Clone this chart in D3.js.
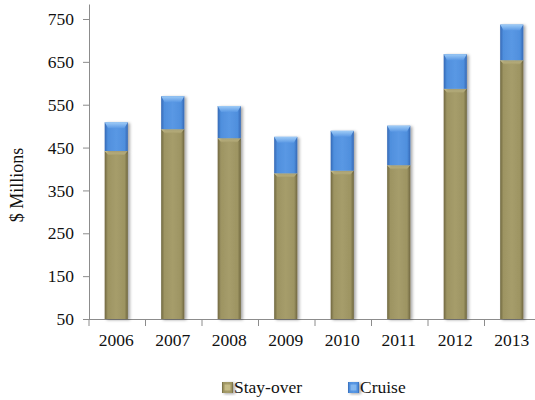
<!DOCTYPE html>
<html>
<head>
<meta charset="utf-8">
<script src="https://cdn.jsdelivr.net/npm/d3@7/dist/d3.min.js"></script>
<style>
  html, body { margin: 0; padding: 0; background: #fff; }
  svg { display: block; }
  svg text { font-family: "Liberation Serif", "Times New Roman", Tinos, "DejaVu Serif", serif !important; fill: #111; }
</style>
</head>
<body>
<svg id="chart" width="535" height="400"></svg>
<script>
// Visitor spending by year, $ millions
const years = ["2006", "2007", "2008", "2009", "2010", "2011", "2012", "2013"];
const stayOver = [442, 493, 472, 390, 396, 409, 587, 654];
const cruise = [67, 77, 75, 85, 93, 92, 81, 83];
const yTicks = [50, 150, 250, 350, 450, 550, 650, 750];
const seriesNames = ["Stay-over", "Cruise"];

const serif = "'Liberation Serif', 'Times New Roman', Tinos, 'DejaVu Serif', serif";

const svg = d3.select("#chart");
const defs = svg.append("defs");

const palette = {
  "Stay-over": { edge: "#6f6740", mid: "#9d9462", light: "#a69d6b", bevel: "#ddd39c" },
  "Cruise":    { edge: "#3468b5", mid: "#4f8fdd", light: "#5a98e4", bevel: "#9fccf7" }
};

// horizontal shading for the bar bodies
seriesNames.forEach((name, i) => {
  const c = palette[name];
  const g = defs.append("linearGradient").attr("id", "grad" + i)
    .attr("x1", "0").attr("x2", "1").attr("y1", "0").attr("y2", "0");
  g.append("stop").attr("offset", "0").attr("stop-color", c.edge);
  g.append("stop").attr("offset", "0.14").attr("stop-color", c.mid);
  g.append("stop").attr("offset", "0.5").attr("stop-color", c.light);
  g.append("stop").attr("offset", "0.86").attr("stop-color", c.mid);
  g.append("stop").attr("offset", "1").attr("stop-color", c.edge);
  const b = defs.append("linearGradient").attr("id", "bevel" + i)
    .attr("x1", "0").attr("x2", "0").attr("y1", "0").attr("y2", "1");
  b.append("stop").attr("offset", "0").attr("stop-color", c.bevel);
  b.append("stop").attr("offset", "1").attr("stop-color", c.light);
});

const shadow = defs.append("filter").attr("id", "shadow")
  .attr("x", "-30%").attr("y", "-10%").attr("width", "160%").attr("height", "130%");
shadow.append("feDropShadow").attr("dx", 2).attr("dy", 1)
  .attr("stdDeviation", 1.5).attr("flood-color", "#000").attr("flood-opacity", 0.35);

const x = d3.scaleBand().domain(years).range([88, 540])
  .paddingInner(0.59).paddingOuter(0.295);
const y = d3.scaleLinear().domain([50, 785]).range([319, 4]);

const rows = years.map((yr, i) => ({ year: yr, "Stay-over": stayOver[i], "Cruise": cruise[i] }));
const stacked = d3.stack().keys(seriesNames).value((d, k) => d[k])(rows);
// bars rise from the axis minimum of 50
stacked[0].forEach(p => { p[0] = 50; });

// axes
const axisColor = "#8c8c8c";
const yAxis = svg.append("g").attr("transform", "translate(89,0)")
  .call(d3.axisLeft(y).tickValues(yTicks).tickSize(6).tickSizeOuter(0).tickPadding(9));
yAxis.attr("font-family", serif).attr("font-size", 17.5);
yAxis.select(".domain").attr("stroke", axisColor);
yAxis.selectAll(".tick line").attr("stroke", axisColor);
yAxis.selectAll(".tick text").attr("fill", "#111");

const xAxis = svg.append("g").attr("transform", "translate(0,319)")
  .call(d3.axisBottom(x).tickSize(0).tickPadding(15));
xAxis.attr("font-family", serif).attr("font-size", 17.5);
xAxis.select(".domain").remove();
xAxis.selectAll(".tick text").attr("fill", "#111");
xAxis.append("line").attr("x1", 83).attr("x2", 535).attr("y1", 0.5).attr("y2", 0.5)
  .attr("stroke", axisColor);
xAxis.selectAll("line.sep").data(years).enter().append("line")
  .attr("class", "sep")
  .attr("x1", d => x(d) - x.step() * x.paddingInner() / 2 + 1)
  .attr("x2", d => x(d) - x.step() * x.paddingInner() / 2 + 1)
  .attr("y1", 0).attr("y2", 7).attr("stroke", axisColor);

// stacked bars with bevelled tops
const bw = x.bandwidth();
stacked.forEach((layer, si) => {
  const bevelH = si === 0 ? 4 : 6;
  const g = svg.append("g").attr("class", "series-" + si);
  const seg = g.selectAll("g").data(layer).enter().append("g")
    .attr("filter", "url(#shadow)");
  seg.append("rect")
    .attr("x", d => x(d.data.year))
    .attr("y", d => y(d[1]))
    .attr("width", bw)
    .attr("height", d => y(d[0]) - y(d[1]))
    .attr("fill", "url(#grad" + si + ")");
  seg.append("polygon")
    .attr("points", d => {
      const x0 = x(d.data.year), x1 = x0 + bw, t = y(d[1]);
      return [[x0, t], [x1, t], [x1 - 3.5, t + bevelH], [x0 + 3.5, t + bevelH]]
        .map(p => p.join(",")).join(" ");
    })
    .attr("fill", "url(#bevel" + si + ")");
});

// y-axis title
svg.append("text")
  .attr("transform", "translate(23,185) rotate(-90)")
  .attr("text-anchor", "middle")
  .attr("font-family", serif)
  .attr("font-size", 18)
  .text("$ Millions");

// legend
const legend = svg.append("g").attr("class", "legend")
  .attr("font-family", serif).attr("font-size", 17.5);
const legendX = [222, 348];
seriesNames.forEach((name, i) => {
  const lg = legend.append("g").attr("transform", `translate(${legendX[i]},382)`);
  lg.append("rect").attr("width", 11).attr("height", 11)
    .attr("fill", "url(#grad" + i + ")").attr("filter", "url(#shadow)");
  lg.append("rect").attr("x", 2.5).attr("y", 2.5).attr("width", 6).attr("height", 6)
    .attr("fill", palette[name].bevel).attr("opacity", 0.6);
  lg.append("text").attr("x", 12).attr("y", 10.5).text(name);
});
</script>
</body>
</html>
